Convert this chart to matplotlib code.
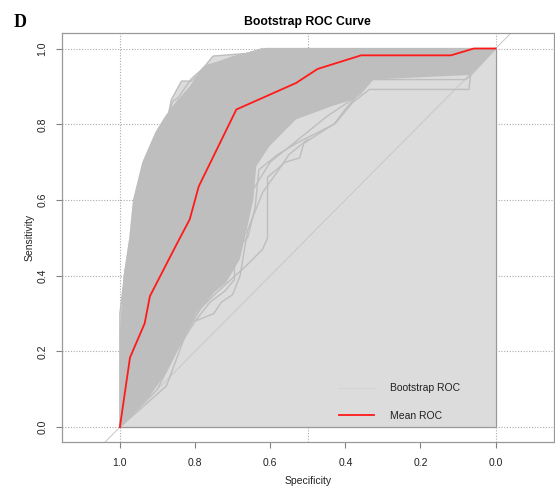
import matplotlib
matplotlib.use("Agg")
import matplotlib.pyplot as plt

plt.rcParams['font.family'] = ['Liberation Sans', 'DejaVu Sans']

# mean ROC (specificity, sensitivity)
mean_spec = [1.0, 0.973, 0.934, 0.920, 0.849, 0.814, 0.790, 0.690, 0.531, 0.474, 0.358, 0.119, 0.058, 0.0]
mean_sens = [0.0, 0.184, 0.274, 0.346, 0.483, 0.549, 0.636, 0.839, 0.909, 0.946, 0.982, 0.982, 1.0, 1.0]

# edges of the dense bundle of bootstrap curves
upper_spec = [1.0, 1.0, 0.99, 0.975, 0.965, 0.94, 0.905, 0.88, 0.85, 0.814, 0.78, 0.70, 0.61, 0.0]
upper_sens = [0.0, 0.25, 0.40, 0.50, 0.60, 0.70, 0.78, 0.82, 0.86, 0.90, 0.95, 0.98, 1.0, 1.0]
lower_spec = [1.0, 0.92, 0.876, 0.832, 0.796, 0.761, 0.717, 0.681, 0.664, 0.645, 0.637, 0.602, 0.531, 0.435, 0.381, 0.33, 0.07, 0.0]
lower_sens = [0.0, 0.083, 0.144, 0.232, 0.303, 0.346, 0.382, 0.443, 0.514, 0.60, 0.689, 0.742, 0.813, 0.848, 0.865, 0.918, 0.93, 1.0]

# stray bootstrap curves outside the bundle
out1_spec = [1.0, 1.0, 0.985, 0.96, 0.942, 0.934, 0.916, 0.912, 0.885, 0.872, 0.863, 0.836, 0.810, 0.796, 0.752, 0.664, 0.611, 0.0]
out1_sens = [0.0, 0.30, 0.42, 0.52, 0.575, 0.637, 0.733, 0.751, 0.795, 0.821, 0.865, 0.914, 0.914, 0.927, 0.980, 0.987, 1.0, 1.0]
out2_spec = [0.95, 0.93, 0.905, 0.89, 0.875, 0.86, 0.845, 0.81, 0.77, 0.70, 0.62]
out2_sens = [0.62, 0.70, 0.76, 0.79, 0.80, 0.86, 0.87, 0.92, 0.955, 0.975, 1.0]
out3_spec = [1.0, 0.876, 0.823, 0.788, 0.743, 0.664, 0.62, 0.607, 0.607, 0.56, 0.522, 0.51, 0.425, 0.381, 0.336, 0.071, 0.066, 0.0]
out3_sens = [0.0, 0.109, 0.25, 0.311, 0.355, 0.426, 0.47, 0.50, 0.66, 0.70, 0.711, 0.75, 0.804, 0.857, 0.892, 0.892, 0.936, 1.0]
out4_spec = [1.0, 0.90, 0.85, 0.80, 0.76, 0.72, 0.695, 0.695, 0.66, 0.64, 0.63, 0.58, 0.53, 0.47, 0.43, 0.40, 0.33, 0.08, 0.07, 0.0]
out4_sens = [0.0, 0.10, 0.20, 0.28, 0.33, 0.36, 0.39, 0.47, 0.50, 0.58, 0.68, 0.72, 0.75, 0.78, 0.80, 0.84, 0.918, 0.918, 0.925, 1.0]
out5_spec = [1.0, 0.92, 0.86, 0.82, 0.78, 0.74, 0.70, 0.675, 0.65, 0.60, 0.55, 0.50, 0.45, 0.36, 0.32, 0.07, 0.0]
out5_sens = [0.0, 0.09, 0.18, 0.26, 0.32, 0.37, 0.44, 0.52, 0.62, 0.70, 0.74, 0.78, 0.82, 0.88, 0.927, 0.936, 1.0]
out6_spec = [0.80, 0.75, 0.73, 0.70, 0.68, 0.66, 0.62, 0.57, 0.55, 0.50]
out6_sens = [0.28, 0.30, 0.33, 0.35, 0.40, 0.52, 0.62, 0.69, 0.72, 0.76]

ticks = [1.0, 0.8, 0.6, 0.4, 0.2, 0.0]
tick_labels = ["1.0", "0.8", "0.6", "0.4", "0.2", "0.0"]
grid_x = [1.0, 0.5, 0.0]
grid_y = [0.0, 0.2, 0.4, 0.6, 0.8, 1.0]

band_gray = "#bebebe"
fill_gray = "#dcdcdc"

fig = plt.figure(figsize=(5.55, 4.88), dpi=100)
ax = fig.add_axes([0.111, 0.0936, 0.887, 0.838])

# dotted grid
for gx in grid_x:
    ax.axvline(gx, color="#aaaaaa", lw=0.8, ls=(0, (1, 1.5)), zorder=0)
for gy in grid_y:
    ax.axhline(gy, color="#aaaaaa", lw=0.8, ls=(0, (1, 1.5)), zorder=0)

# area under the curves
ax.fill(upper_spec + [0.0, 1.0], upper_sens + [0.0, 0.0], color=fill_gray, lw=0, zorder=1)
ax.fill(out1_spec + [0.0], out1_sens + [0.0], color=fill_gray, lw=0, zorder=1)

# chance diagonal
ax.axline((1.0, 0.0), (0.0, 1.0), color="#c8c8c8", lw=0.7, zorder=2)

# bootstrap bundle
ax.fill(upper_spec + lower_spec[::-1], upper_sens + lower_sens[::-1], color=band_gray, lw=0, zorder=3)
for sp, se in [(out1_spec, out1_sens), (out2_spec, out2_sens), (out3_spec, out3_sens),
               (out4_spec, out4_sens), (out5_spec, out5_sens), (out6_spec, out6_sens)]:
    ax.plot(sp, se, color=band_gray, lw=1.0, zorder=3)

ax.hlines(0.0, 0.0, 1.0, color="#999999", lw=0.9, zorder=4)
ax.vlines(0.0, 0.0, 1.0, color="#999999", lw=0.9, zorder=4)

ax.plot(mean_spec, mean_sens, color="#ff1a1a", lw=1.3, zorder=5)

# legend entries
ax.plot([], [], color="#d3d3d3", lw=0.8, label="Bootstrap ROC")
ax.plot([], [], color="#ff1a1a", lw=1.3, label="Mean ROC")
ax.legend(loc="lower left", bbox_to_anchor=(0.545, 0.03), frameon=False, fontsize=7.5,
          handlelength=3.3, handletextpad=1.6, labelspacing=1.65, labelcolor="#222222")

ax.set_xlim(1.155, -0.155)
ax.set_ylim(-0.04, 1.04)
ax.set_xticks(ticks)
ax.set_xticklabels(tick_labels)
ax.set_yticks(ticks)
ax.set_yticklabels(tick_labels, rotation=90, va="center")
ax.tick_params(length=4.3, width=0.8, color="#808080", labelsize=7.5, labelcolor="#222222", pad=6)
ax.tick_params(axis="x", pad=7)
for s in ax.spines.values():
    s.set_color("#999999")
    s.set_linewidth(0.9)

ax.set_xlabel("Specificity", fontsize=7.5, color="#222222", labelpad=5.5)
ax.set_ylabel("Sensitivity", fontsize=7.5, color="#222222", labelpad=2)
ax.set_title("Bootstrap ROC Curve", fontsize=8.8, fontweight="bold", pad=6)

fig.text(0.024, 1 - 26.7 / 488, "D", family="Liberation Serif", weight="bold", size=13, va="baseline")

fig.savefig("out.png", dpi=100)
